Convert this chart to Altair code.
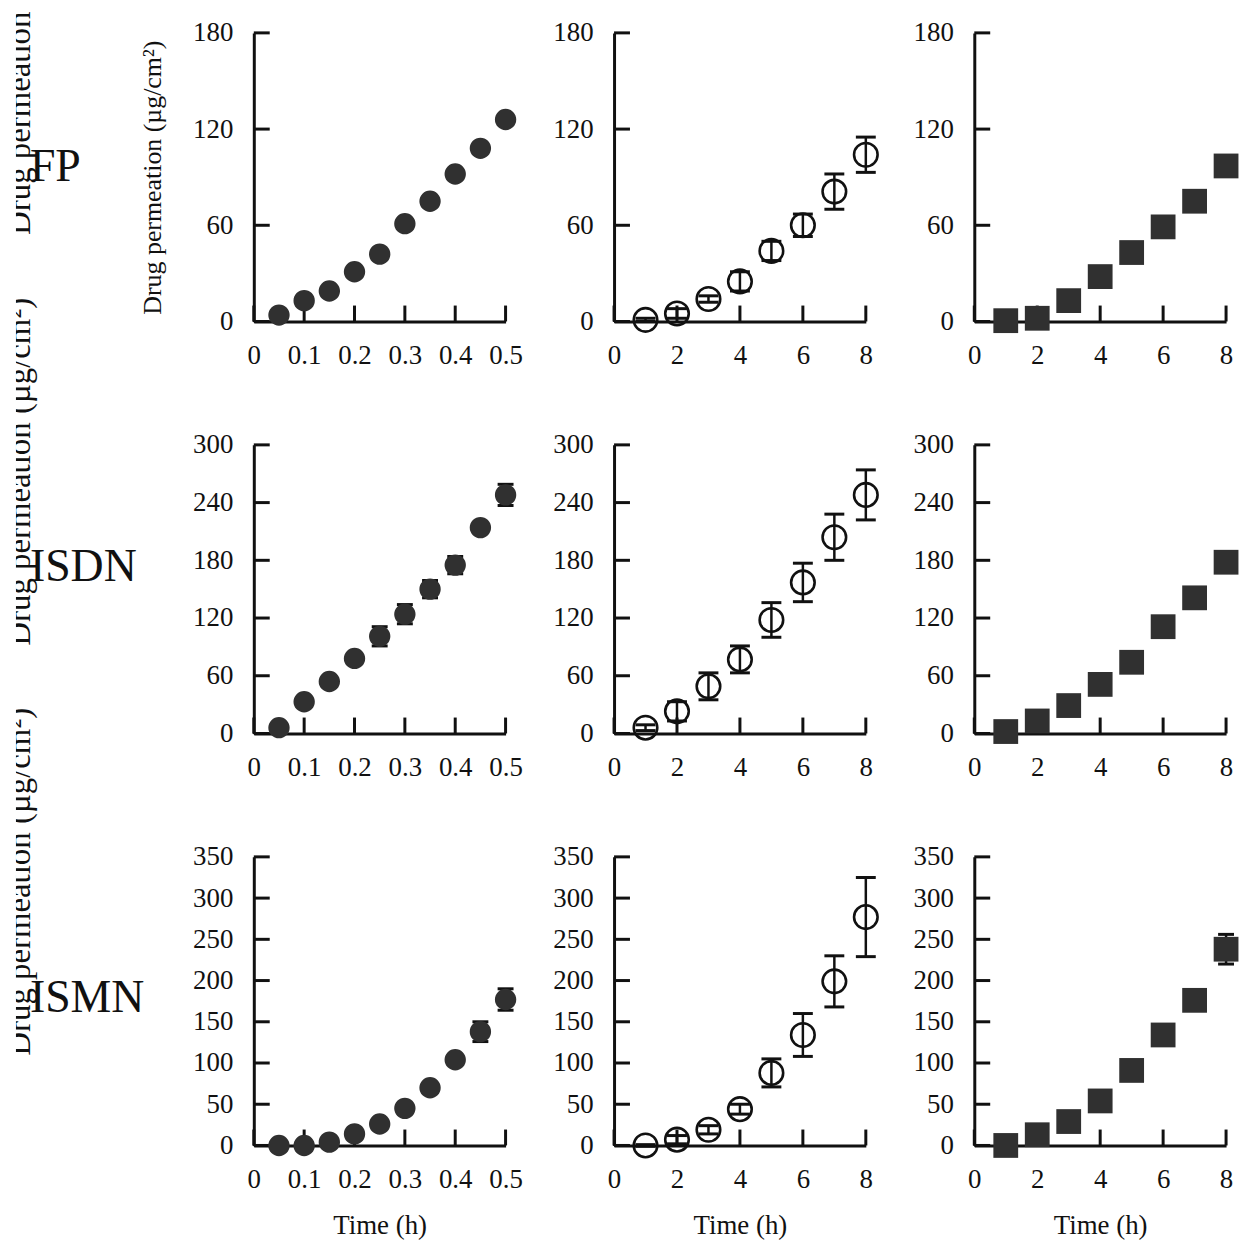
import altair as alt
import pandas as pd

# ---------------- data ----------------
T_SHORT = [0.05, 0.10, 0.15, 0.20, 0.25, 0.30, 0.35, 0.40, 0.45, 0.50]
T_LONG = [1, 2, 3, 4, 5, 6, 7, 8]

DRUGS = ["FP", "ISDN", "ISMN"]

# column 1: filled circles (0-0.5 h)
FP_A = [4, 13, 19, 31, 42, 61, 75, 92, 108, 126]
FP_A_ERR = [1, 1, 2, 1, 1, 1, 1, 1, 1, 1]
ISDN_A = [6, 33, 54, 78, 101, 124, 150, 175, 214, 248]
ISDN_A_ERR = [2, 2, 2, 3, 10, 10, 9, 9, 4, 11]
ISMN_A = [0, 0, 4, 14, 26, 45, 70, 104, 138, 177]
ISMN_A_ERR = [1, 3, 1, 2, 2, 3, 3, 3, 12, 13]

# column 2: open circles (1-8 h)
FP_B = [1, 5, 14, 25, 44, 60, 81, 104]
FP_B_ERR = [1, 3, 2, 6, 6, 7, 11, 11]
ISDN_B = [6, 23, 49, 77, 118, 157, 204, 248]
ISDN_B_ERR = [3, 10, 14, 14, 18, 20, 24, 26]
ISMN_B = [0, 7, 19, 44, 88, 134, 199, 277]
ISMN_B_ERR = [1, 5, 5, 6, 17, 26, 31, 48]

# column 3: filled squares (1-8 h)
FP_C = [0.5, 2, 13, 28, 43, 59, 75, 97]
FP_C_ERR = [0.5, 1, 1, 1, 1, 1, 1, 1]
ISDN_C = [2, 13, 29, 51, 74, 111, 141, 178]
ISDN_C_ERR = [1, 1, 1, 1, 1, 1, 3, 2]
ISMN_C = [0, 13, 29, 54, 91, 134, 176, 238]
ISMN_C_ERR = [1, 1, 1, 1, 1, 1, 1, 18]

Y_MAX = [180, 300, 350]
Y_TICKS = [[0, 60, 120, 180],
           [0, 60, 120, 180, 240, 300],
           [0, 50, 100, 150, 200, 250, 300, 350]]
X_TICKS_SHORT = [0, 0.1, 0.2, 0.3, 0.4, 0.5]
X_TICKS_LONG = [0, 2, 4, 6, 8]

Y_TITLE = "Drug permeation (µg/cm²)"
X_TITLE = "Time (h)"
SIDE_TEXT = ["Drug permeation", Y_TITLE, Y_TITLE]

SERIES = [
    [(FP_A, FP_A_ERR), (FP_B, FP_B_ERR), (FP_C, FP_C_ERR)],
    [(ISDN_A, ISDN_A_ERR), (ISDN_B, ISDN_B_ERR), (ISDN_C, ISDN_C_ERR)],
    [(ISMN_A, ISMN_A_ERR), (ISMN_B, ISMN_B_ERR), (ISMN_C, ISMN_C_ERR)],
]

# ---------------- style ----------------
W, H = 253, 290
TICK = 16
FONT = "Liberation Serif"
INK = "#111111"
FILL = "#303030"

# annotation placement (pixels relative to each left panel)
LABEL_Y = [135, 123, 142]
SIDE_Y = [203, 27, 25]
SIDE_ALIGN = ["left", "center", "center"]
SIDE_CUT = [(-40, 205), (-150, 205), (-150, 205)]


def panel(row, col):
    vals, errs = SERIES[row][col]
    t = T_SHORT if col == 0 else T_LONG
    xmax = 0.5 if col == 0 else 8
    xticks = X_TICKS_SHORT if col == 0 else X_TICKS_LONG
    df = pd.DataFrame({
        "t": t,
        "y": vals,
        "lo": [v - e for v, e in zip(vals, errs)],
        "hi": [v + e for v, e in zip(vals, errs)],
    })
    xs = alt.Scale(domain=[0, xmax], nice=False, zero=False)
    ys = alt.Scale(domain=[0, Y_MAX[row]], nice=False)

    xaxis = alt.Axis(values=xticks, format="~g" if col == 0 else "d",
                     title=X_TITLE if row == 2 else None, titlePadding=20)
    yaxis = alt.Axis(values=Y_TICKS[row], format="d",
                     title=Y_TITLE if (row == 0 and col == 0) else None,
                     titlePadding=27, titleFontSize=26)

    base = alt.Chart(df)
    xe = alt.X("t:Q", scale=xs, axis=xaxis)
    bar = base.mark_rule(color=INK, strokeWidth=2.5).encode(
        x=xe, y=alt.Y("lo:Q", scale=ys, axis=yaxis), y2="hi:Q")
    cap = 20 if col == 1 else 16
    cap_lo = base.mark_tick(orient="horizontal", color=INK, thickness=3,
                            size=cap, opacity=1).encode(
        x=xe, y=alt.Y("lo:Q", scale=ys, axis=yaxis))
    cap_hi = base.mark_tick(orient="horizontal", color=INK, thickness=3,
                            size=cap, opacity=1).encode(
        x=xe, y=alt.Y("hi:Q", scale=ys, axis=yaxis))

    if col == 0:
        pm = base.mark_point(shape="circle", filled=True, fill=FILL,
                             color=FILL, size=460, opacity=1)
    elif col == 1:
        pm = base.mark_point(shape="circle", filled=False, color=INK,
                             strokeWidth=2.6, size=560, opacity=1)
    else:
        pm = base.mark_point(shape="square", filled=True, fill=FILL,
                             color=FILL, size=620, opacity=1)
    pts = pm.encode(x=xe, y=alt.Y("y:Q", scale=ys, axis=yaxis))

    xt = alt.Chart(pd.DataFrame({"v": xticks})).mark_rule(
        color=INK, strokeWidth=3).encode(
        x=alt.X("v:Q", scale=xs, axis=xaxis),
        y=alt.value(H), y2=alt.value(H - TICK))
    yt = alt.Chart(pd.DataFrame({"v": Y_TICKS[row]})).mark_rule(
        color=INK, strokeWidth=3).encode(
        y=alt.Y("v:Q", scale=ys, axis=yaxis),
        x=alt.value(0), x2=alt.value(TICK))

    layers = [xt, yt, bar, cap_lo, cap_hi, pts]

    if col == 0:
        lab = alt.Chart(pd.DataFrame({"s": [DRUGS[row]]})).mark_text(
            align="left", baseline="middle", font=FONT, fontSize=46,
            color=INK).encode(
            x=alt.value(-225), y=alt.value(LABEL_Y[row]), text="s:N")
        side = alt.Chart(pd.DataFrame({"s": [SIDE_TEXT[row]]})).mark_text(
            align=SIDE_ALIGN[row], baseline="alphabetic", angle=270,
            font=FONT, fontSize=33, color=INK).encode(
            x=alt.value(-225), y=alt.value(SIDE_Y[row]), text="s:N")
        cut = alt.Chart(pd.DataFrame({"s": [0]})).mark_rect(
            color="white").encode(
            x=alt.value(-258), x2=alt.value(-239),
            y=alt.value(SIDE_CUT[row][0]), y2=alt.value(SIDE_CUT[row][1]))
        layers = layers + [side, cut, lab]

    return alt.layer(*layers).properties(width=W, height=H)


panels = [panel(r, c) for r in range(3) for c in range(3)]

chart = alt.concat(
    *panels, columns=3, spacing={"row": 124, "column": 109}
).properties(
    bounds="flush",
    padding={"left": -11, "top": -18, "right": 0, "bottom": 0},
).configure_view(
    strokeWidth=0
).configure_axis(
    labelFont=FONT, labelFontSize=27, labelColor=INK,
    titleFont=FONT, titleFontSize=27, titleColor=INK,
    titleFontWeight="normal",
    domainColor=INK, domainWidth=3,
    ticks=False, tickSize=0, grid=False,
    labelPadding=21, labelFlush=False, labelOverlap=False,
)

chart.save("out.html", embed_options={"renderer": "svg", "actions": False})
